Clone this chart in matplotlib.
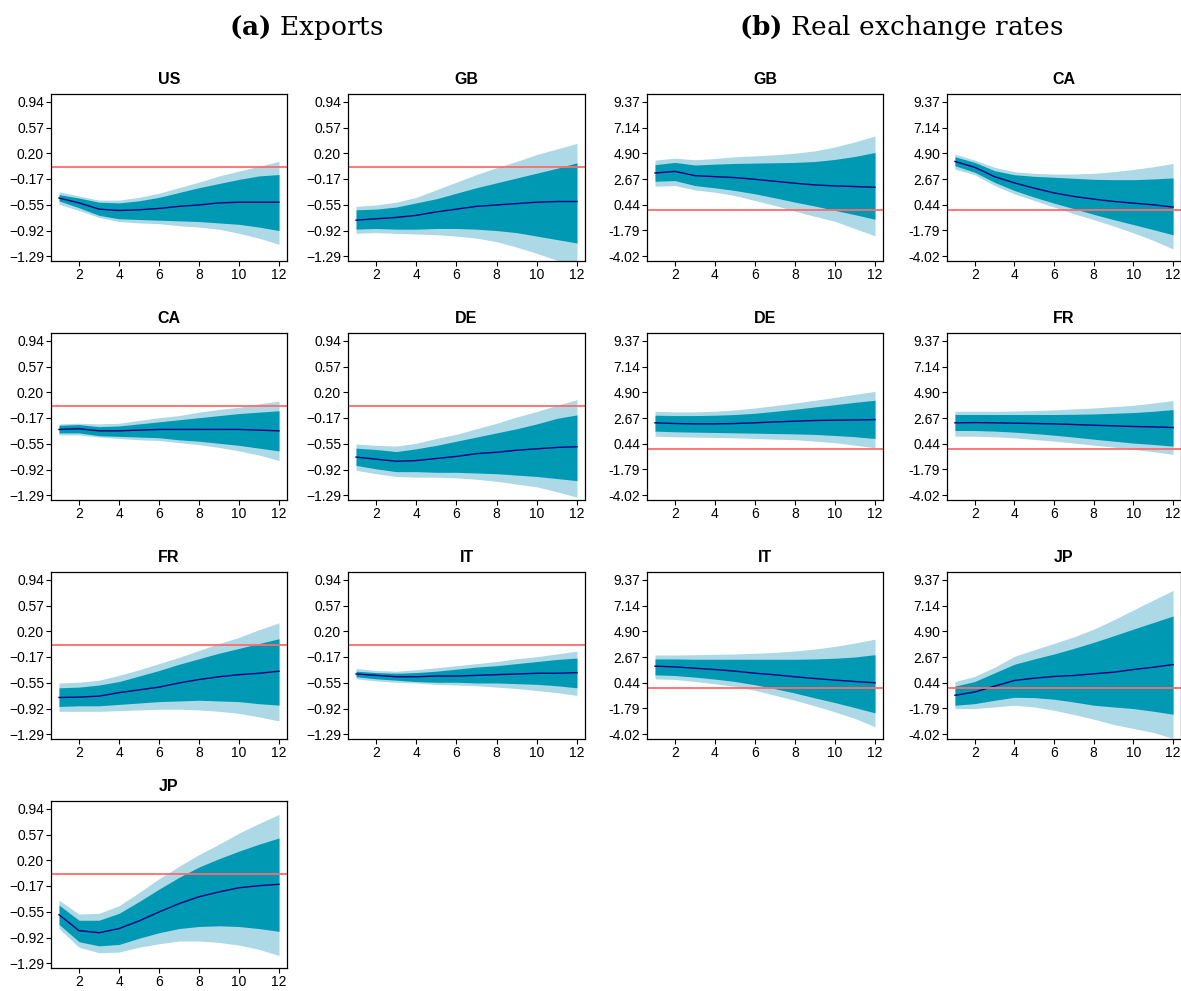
import matplotlib.pyplot as plt
import numpy as np

plt.rcParams['font.family'] = ['Liberation Sans', 'DejaVu Sans']
plt.rcParams['mathtext.fontset'] = 'dejavuserif'

horizon = list(range(1, 13))

# ---- exports (a) ----
us_mid = [-0.45, -0.52, -0.61, -0.63, -0.62, -0.60, -0.57, -0.55, -0.52, -0.51, -0.51, -0.51]
us_lo68 = [-0.49, -0.59, -0.70, -0.75, -0.76, -0.77, -0.78, -0.79, -0.81, -0.83, -0.87, -0.92]
us_hi68 = [-0.40, -0.45, -0.51, -0.52, -0.49, -0.44, -0.37, -0.30, -0.24, -0.18, -0.13, -0.11]
us_lo90 = [-0.54, -0.63, -0.73, -0.79, -0.81, -0.82, -0.85, -0.87, -0.90, -0.96, -1.03, -1.12]
us_hi90 = [-0.36, -0.42, -0.48, -0.48, -0.44, -0.38, -0.30, -0.22, -0.13, -0.06, 0.01, 0.08]

gb_mid = [-0.77, -0.75, -0.73, -0.70, -0.65, -0.61, -0.57, -0.55, -0.53, -0.51, -0.50, -0.50]
gb_lo68 = [-0.90, -0.89, -0.90, -0.90, -0.89, -0.89, -0.90, -0.92, -0.95, -1.00, -1.05, -1.10]
gb_hi68 = [-0.62, -0.61, -0.58, -0.52, -0.46, -0.38, -0.30, -0.23, -0.16, -0.09, -0.02, 0.06]
gb_lo90 = [-0.96, -0.95, -0.96, -0.97, -0.98, -1.00, -1.03, -1.08, -1.16, -1.25, -1.35, -1.42]
gb_hi90 = [-0.57, -0.55, -0.51, -0.44, -0.33, -0.22, -0.11, -0.01, 0.08, 0.18, 0.26, 0.34]

ca_mid = [-0.34, -0.33, -0.36, -0.36, -0.35, -0.34, -0.34, -0.34, -0.34, -0.34, -0.35, -0.36]
ca_lo68 = [-0.39, -0.39, -0.43, -0.44, -0.45, -0.46, -0.49, -0.51, -0.54, -0.57, -0.61, -0.65]
ca_hi68 = [-0.28, -0.27, -0.30, -0.29, -0.26, -0.23, -0.20, -0.17, -0.14, -0.11, -0.09, -0.07]
ca_lo90 = [-0.42, -0.42, -0.45, -0.47, -0.49, -0.50, -0.53, -0.56, -0.60, -0.65, -0.71, -0.79]
ca_hi90 = [-0.26, -0.25, -0.26, -0.25, -0.21, -0.17, -0.14, -0.09, -0.05, -0.02, 0.03, 0.07]

de_mid = [-0.74, -0.77, -0.80, -0.79, -0.76, -0.73, -0.69, -0.67, -0.64, -0.62, -0.60, -0.59]
de_lo68 = [-0.86, -0.91, -0.95, -0.95, -0.96, -0.96, -0.97, -0.98, -1.00, -1.02, -1.05, -1.08]
de_hi68 = [-0.61, -0.63, -0.66, -0.62, -0.57, -0.51, -0.45, -0.39, -0.33, -0.26, -0.18, -0.13]
de_lo90 = [-0.93, -0.98, -1.02, -1.03, -1.03, -1.04, -1.06, -1.09, -1.13, -1.17, -1.24, -1.32]
de_hi90 = [-0.55, -0.57, -0.58, -0.54, -0.47, -0.41, -0.33, -0.25, -0.16, -0.08, 0.01, 0.09]

fr_mid = [-0.76, -0.755, -0.74, -0.69, -0.65, -0.61, -0.55, -0.50, -0.46, -0.43, -0.41, -0.38]
fr_lo68 = [-0.89, -0.88, -0.88, -0.86, -0.84, -0.82, -0.81, -0.80, -0.81, -0.82, -0.85, -0.87]
fr_hi68 = [-0.62, -0.61, -0.58, -0.53, -0.45, -0.37, -0.28, -0.20, -0.12, -0.05, 0.02, 0.09]
fr_lo90 = [-0.96, -0.96, -0.96, -0.95, -0.94, -0.93, -0.93, -0.94, -0.96, -0.99, -1.04, -1.10]
fr_hi90 = [-0.55, -0.54, -0.51, -0.44, -0.36, -0.27, -0.18, -0.08, 0.02, 0.11, 0.22, 0.32]

it_mid = [-0.42, -0.44, -0.46, -0.46, -0.45, -0.45, -0.44, -0.43, -0.42, -0.41, -0.41, -0.40]
it_lo68 = [-0.46, -0.49, -0.51, -0.53, -0.54, -0.54, -0.55, -0.55, -0.56, -0.57, -0.59, -0.62]
it_hi68 = [-0.38, -0.40, -0.41, -0.40, -0.38, -0.35, -0.32, -0.30, -0.27, -0.24, -0.21, -0.19]
it_lo90 = [-0.49, -0.52, -0.54, -0.55, -0.57, -0.58, -0.59, -0.61, -0.63, -0.66, -0.69, -0.73]
it_hi90 = [-0.34, -0.37, -0.38, -0.36, -0.33, -0.30, -0.27, -0.24, -0.20, -0.17, -0.13, -0.09]

jp_mid = [-0.59, -0.82, -0.85, -0.79, -0.68, -0.55, -0.43, -0.33, -0.26, -0.20, -0.17, -0.15]
jp_lo68 = [-0.73, -0.98, -1.04, -1.02, -0.93, -0.85, -0.79, -0.76, -0.75, -0.76, -0.79, -0.83]
jp_hi68 = [-0.45, -0.67, -0.67, -0.57, -0.40, -0.22, -0.05, 0.10, 0.22, 0.33, 0.43, 0.52]
jp_lo90 = [-0.79, -1.06, -1.14, -1.13, -1.06, -1.01, -0.97, -0.97, -0.99, -1.03, -1.09, -1.18]
jp_hi90 = [-0.38, -0.58, -0.57, -0.46, -0.27, -0.07, 0.11, 0.28, 0.43, 0.59, 0.73, 0.86]

# ---- real exchange rates (b) ----
rgb_mid = [3.20, 3.34, 2.97, 2.88, 2.80, 2.65, 2.48, 2.31, 2.16, 2.08, 2.02, 1.96]
rgb_lo68 = [2.48, 2.54, 2.11, 1.91, 1.68, 1.39, 1.04, 0.67, 0.33, -0.05, -0.42, -0.82]
rgb_hi68 = [3.92, 4.12, 3.89, 3.97, 4.03, 4.06, 4.09, 4.12, 4.20, 4.38, 4.64, 4.98]
rgb_lo90 = [2.05, 2.11, 1.73, 1.53, 1.24, 0.81, 0.38, -0.11, -0.57, -1.00, -1.63, -2.26]
rgb_hi90 = [4.32, 4.49, 4.35, 4.46, 4.61, 4.69, 4.78, 4.92, 5.12, 5.47, 5.90, 6.42]

rca_mid = [4.20, 3.69, 2.88, 2.34, 1.88, 1.47, 1.16, 0.93, 0.73, 0.58, 0.44, 0.24]
rca_lo68 = [3.83, 3.26, 2.39, 1.68, 1.10, 0.58, 0.10, -0.39, -0.85, -1.28, -1.72, -2.17]
rca_hi68 = [4.61, 4.12, 3.40, 3.05, 2.91, 2.83, 2.74, 2.65, 2.62, 2.62, 2.68, 2.77]
rca_lo90 = [3.54, 3.05, 2.11, 1.39, 0.81, 0.24, -0.34, -0.85, -1.40, -2.00, -2.65, -3.40]
rca_hi90 = [4.84, 4.32, 3.69, 3.31, 3.17, 3.11, 3.11, 3.17, 3.31, 3.51, 3.74, 4.03]

rde_mid = [2.26, 2.20, 2.17, 2.17, 2.20, 2.26, 2.34, 2.40, 2.46, 2.49, 2.51, 2.54]
rde_lo68 = [1.54, 1.48, 1.45, 1.42, 1.39, 1.36, 1.33, 1.30, 1.25, 1.16, 1.05, 0.90]
rde_hi68 = [2.92, 2.89, 2.89, 2.92, 2.98, 3.09, 3.26, 3.44, 3.64, 3.84, 4.04, 4.22]
rde_lo90 = [1.10, 1.05, 1.02, 0.99, 0.96, 0.90, 0.84, 0.79, 0.67, 0.53, 0.32, 0.09]
rde_hi90 = [3.26, 3.21, 3.21, 3.26, 3.38, 3.55, 3.76, 3.98, 4.22, 4.47, 4.73, 4.99]

rfr_mid = [2.26, 2.28, 2.26, 2.23, 2.20, 2.17, 2.11, 2.05, 2.00, 1.94, 1.91, 1.85]
rfr_lo68 = [1.59, 1.59, 1.54, 1.45, 1.33, 1.19, 1.02, 0.84, 0.67, 0.50, 0.38, 0.24]
rfr_hi68 = [2.98, 2.98, 2.98, 2.98, 2.98, 2.98, 3.00, 3.03, 3.09, 3.15, 3.26, 3.41]
rfr_lo90 = [1.10, 1.10, 1.05, 0.96, 0.81, 0.67, 0.50, 0.32, 0.15, -0.05, -0.25, -0.48]
rfr_hi90 = [3.26, 3.26, 3.26, 3.29, 3.32, 3.38, 3.47, 3.55, 3.67, 3.78, 3.98, 4.19]

rit_mid = [1.88, 1.82, 1.70, 1.59, 1.45, 1.27, 1.13, 0.96, 0.81, 0.67, 0.55, 0.44]
rit_lo68 = [1.13, 1.07, 0.93, 0.76, 0.55, 0.27, -0.08, -0.45, -0.88, -1.28, -1.72, -2.17]
rit_hi68 = [2.51, 2.51, 2.48, 2.48, 2.48, 2.48, 2.48, 2.48, 2.51, 2.57, 2.68, 2.88]
rit_lo90 = [0.78, 0.73, 0.55, 0.35, 0.12, -0.22, -0.65, -1.08, -1.57, -2.09, -2.66, -3.38]
rit_hi90 = [2.85, 2.85, 2.88, 2.91, 2.94, 3.00, 3.08, 3.20, 3.37, 3.60, 3.89, 4.23]

rjp_mid = [-0.65, -0.36, 0.15, 0.64, 0.84, 0.99, 1.07, 1.22, 1.36, 1.59, 1.79, 2.02]
rjp_lo68 = [-1.51, -1.37, -1.08, -0.82, -0.85, -0.99, -1.23, -1.51, -1.66, -1.80, -2.03, -2.29]
rjp_hi68 = [0.15, 0.55, 1.30, 2.05, 2.51, 2.94, 3.43, 3.95, 4.52, 5.10, 5.67, 6.24]
rjp_lo90 = [-1.80, -1.80, -1.66, -1.51, -1.66, -1.95, -2.32, -2.72, -3.18, -3.53, -3.87, -4.39]
rjp_hi90 = [0.55, 0.99, 1.79, 2.74, 3.31, 3.86, 4.43, 5.10, 5.90, 6.76, 7.62, 8.46]

exp_ticks = [0.94, 0.57, 0.20, -0.17, -0.55, -0.92, -1.29]
exp_labels = ['0.94', '0.57', '0.20', '\u22120.17', '\u22120.55', '\u22120.92', '\u22121.29']
rer_ticks = [9.37, 7.14, 4.90, 2.67, 0.44, -1.79, -4.02]
rer_labels = ['9.37', '7.14', '4.90', '2.67', '0.44', '-1.79', '-4.02']

# title, series, row, col, which block
panels = [
    ('US', (us_mid, us_lo68, us_hi68, us_lo90, us_hi90), 0, 0, 'exp'),
    ('GB', (gb_mid, gb_lo68, gb_hi68, gb_lo90, gb_hi90), 0, 1, 'exp'),
    ('CA', (ca_mid, ca_lo68, ca_hi68, ca_lo90, ca_hi90), 1, 0, 'exp'),
    ('DE', (de_mid, de_lo68, de_hi68, de_lo90, de_hi90), 1, 1, 'exp'),
    ('FR', (fr_mid, fr_lo68, fr_hi68, fr_lo90, fr_hi90), 2, 0, 'exp'),
    ('IT', (it_mid, it_lo68, it_hi68, it_lo90, it_hi90), 2, 1, 'exp'),
    ('JP', (jp_mid, jp_lo68, jp_hi68, jp_lo90, jp_hi90), 3, 0, 'exp'),
    ('GB', (rgb_mid, rgb_lo68, rgb_hi68, rgb_lo90, rgb_hi90), 0, 2, 'rer'),
    ('CA', (rca_mid, rca_lo68, rca_hi68, rca_lo90, rca_hi90), 0, 3, 'rer'),
    ('DE', (rde_mid, rde_lo68, rde_hi68, rde_lo90, rde_hi90), 1, 2, 'rer'),
    ('FR', (rfr_mid, rfr_lo68, rfr_hi68, rfr_lo90, rfr_hi90), 1, 3, 'rer'),
    ('IT', (rit_mid, rit_lo68, rit_hi68, rit_lo90, rit_hi90), 2, 2, 'rer'),
    ('JP', (rjp_mid, rjp_lo68, rjp_hi68, rjp_lo90, rjp_hi90), 2, 3, 'rer'),
]

W, H = 1181, 991
fig = plt.figure(figsize=(W / 100, H / 100), dpi=100)

col_left = [51, 348, 647, 947]
col_w = [236, 237, 236, 234]
row_top = [94, 333, 572, 801]
ax_h = 167

for title, (mid, lo68, hi68, lo90, hi90), r, c, kind in panels:
    ax = fig.add_axes([col_left[c] / W, 1 - (row_top[r] + ax_h) / H,
                       col_w[c] / W, ax_h / H])
    ax.fill_between(horizon, lo90, hi90, color='#add8e6', lw=0)
    ax.fill_between(horizon, lo68, hi68, color='#0099b4', lw=0)
    ax.plot(horizon, mid, color='#000080', lw=1)
    ax.axhline(0, color='#ff6b6b', lw=1.3)
    if kind == 'exp':
        ticks, labels = exp_ticks, exp_labels
    else:
        ticks, labels = rer_ticks, rer_labels
    step = ticks[0] - ticks[1]
    ax.set_ylim(ticks[-1] - 0.19 * step, ticks[0] + 0.31 * step)
    ax.set_yticks(ticks, labels)
    ax.set_xlim(0.6, 12.4)
    ax.set_xticks([2, 4, 6, 8, 10, 12])
    ax.tick_params(direction='out', length=3.5, width=0.8, labelsize=10,
                   top=False, right=False, pad=1.5)
    for s in ax.spines.values():
        s.set_linewidth(0.9)
    ax.set_title(title, fontsize=11.5, fontweight='bold', pad=7)

fig.text(306 / W, 1 - 28 / H, r'$\mathbf{(a)}$ Exports', ha='center', va='center',
         fontsize=19, family='DejaVu Serif')
fig.text(901 / W, 1 - 28 / H, r'$\mathbf{(b)}$ Real exchange rates', ha='center',
         va='center', fontsize=19, family='DejaVu Serif')

fig.savefig('out.png', dpi=100)
